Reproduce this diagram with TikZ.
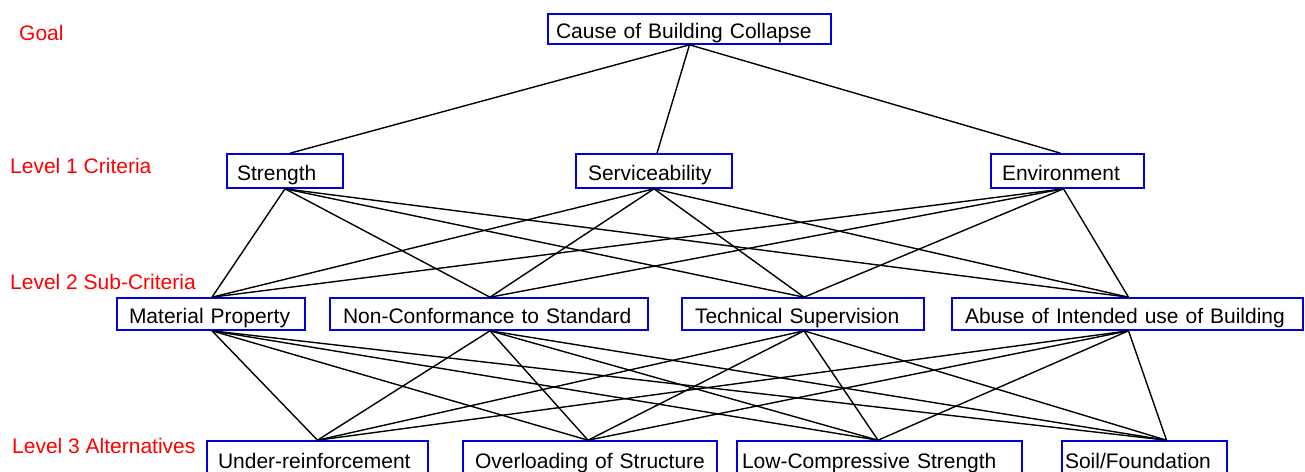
\documentclass[tikz,border=0pt]{standalone}
\usepackage{fontspec}
\setmainfont{Liberation Sans}
\begin{document}
\begin{tikzpicture}[x=1pt,y=-1pt,
  box/.style={draw=blue!85!black, line width=1.6pt, rectangle, align=left,
    inner ysep=0pt, text height=22pt, text depth=4pt,
    font=\fontsize{21}{24}\selectfont},
  lvl/.style={text=red, anchor=west, inner sep=0pt, font=\fontsize{21}{24}\selectfont},
  link/.style={line width=1.4pt, black}]
\useasboundingbox (0,0) rectangle (1305,471);
\clip (0,0) rectangle (1305,471);

% level captions
\node[lvl] (lg) at (19,33) {Goal};
\node[lvl] (l1) at (10,166) {Level 1 Criteria};
\node[lvl] (l2) at (10,282) {Level 2 Sub-Criteria};
\node[lvl] (l3) at (12,446) {Level 3 Alternatives};

% goal
\node[box, minimum height=30pt, inner xsep=8pt, text width=267pt] (goal) at (689.5,29) {Cause of Building Collapse};

% criteria
\node[box, minimum height=34pt, inner xsep=10pt, text width=96pt] (s) at (285,171) {Strength};
\node[box, minimum height=34pt, inner xsep=12pt, text width=132pt] (sv) at (654,171) {Serviceability};
\node[box, minimum height=34pt, inner xsep=11pt, text width=131pt] (en) at (1067.5,171) {Environment};

% sub-criteria
\node[box, minimum height=32pt, inner xsep=12pt, text width=164pt] (mp) at (211,314) {Material Property};
\node[box, minimum height=32pt, inner xsep=13pt, text width=292pt] (nc) at (489,314) {Non-Conformance to Standard};
\node[box, minimum height=32pt, inner xsep=13pt, text width=216pt] (ts) at (803,314) {Technical Supervision};
\node[box, minimum height=32pt, inner xsep=13pt, text width=325pt] (ab) at (1127.5,314) {Abuse of Intended use of Building};

% alternatives
\node[box, minimum height=36pt, inner xsep=11pt, text width=199pt] (ur) at (317.5,459) {Under-reinforcement};
\node[box, minimum height=36pt, inner xsep=12pt, text width=230pt] (os) at (590,459) {Overloading of Structure};
\node[box, minimum height=36pt, inner xsep=5pt, text width=275pt] (lc) at (879.5,459) {Low-Compressive Strength};
\node[box, minimum height=36pt, inner xsep=3pt, text width=159pt] (sf) at (1144.5,459) {Soil/Foundation};

% attachment points
\coordinate (goal-b) at (goal.south);
\coordinate (s-t) at ([xshift=5pt]s.north);
\coordinate (s-b) at (s.south);
\coordinate (sv-t) at ([xshift=3pt]sv.north);
\coordinate (sv-b) at (sv.south);
\coordinate (en-t) at ([xshift=-7pt]en.north);
\coordinate (en-b) at ([xshift=-4pt]en.south);
\foreach \n in {mp,nc,ts,ab} {
  \coordinate (\n-t) at ([xshift=1pt]\n.north);
  \coordinate (\n-b) at ([xshift=1pt]\n.south);
}
\coordinate (ur-t) at (ur.north);
\coordinate (os-t) at ([xshift=-2pt]os.north);
\coordinate (lc-t) at ([xshift=-1.5pt]lc.north);
\coordinate (sf-t) at ([xshift=22pt]sf.north);

% connectors
\foreach \c in {s,sv,en} \draw[link] (goal-b) -- (\c-t);
\foreach \c in {s,sv,en} \foreach \d in {mp,nc,ts,ab} \draw[link] (\c-b) -- (\d-t);
\foreach \d in {mp,nc,ts,ab} \foreach \e in {ur,os,lc,sf} \draw[link] (\d-b) -- (\e-t);
\end{tikzpicture}
\end{document}
